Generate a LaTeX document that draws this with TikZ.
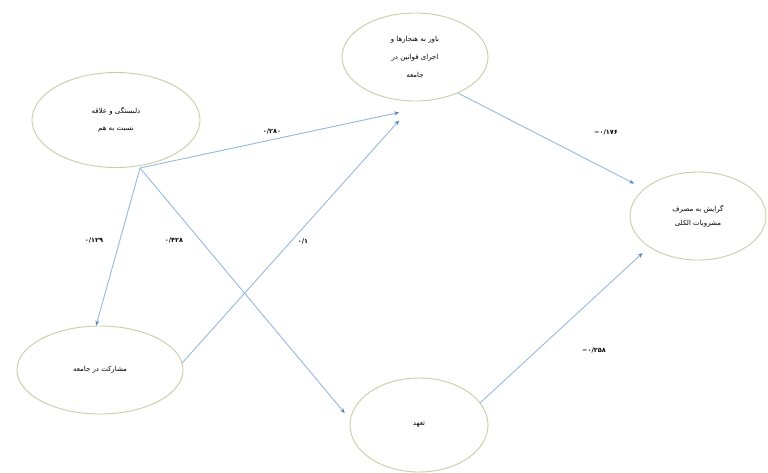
\documentclass[tikz,border=0pt]{standalone}
\usepackage{fontspec}
\usepackage{xcolor}
\usepackage{tikz}
\usetikzlibrary{shapes.geometric,arrows.meta}
\TeXXeTstate=1
\newfontfamily\farsifont[Script=Arabic]{DejaVu Sans}
\newfontfamily\digitfont{DejaVu Sans}
\definecolor{rimcolor}{RGB}{198,206,164}
\definecolor{linkcolor}{RGB}{150,184,222}
\definecolor{tipcolor}{RGB}{86,132,190}

\begin{document}
\begin{tikzpicture}[x=1pt,y=-1pt]
\tikzstyle{arrow} = [draw=linkcolor,line width=0.9pt,-{Stealth[length=5pt,width=4pt,color=tipcolor]}]
\tikzstyle{construct} = [ellipse,draw=rimcolor,line width=0.9pt,inner sep=0,align=center,font=\farsifont\fontsize{7}{14}\selectfont]
\tikzstyle{coef} = [font=\digitfont\bfseries\fontsize{6.5}{8}\selectfont,inner sep=1pt]

\useasboundingbox (0,0) rectangle (768,472);

\node(attach)[construct, minimum width=168, minimum height=95] at (116,120)
  {\beginR دلبستگی و علاقه\endR\\[3pt]\beginR نسبت به هم\endR};
\node(belief)[construct, minimum width=146, minimum height=88, font=\farsifont\fontsize{7}{18}\selectfont] at (415,57)
  {\beginR باور به هنجارها و\endR\\\beginR اجرای قوانین در\endR\\\beginR جامعه\endR};
\node(tendency)[construct, minimum width=136, minimum height=88] at (698,216)
  {\beginR گرایش به مصرف\endR\\\beginR مشروبات الکلی\endR};
\node(involve)[construct, minimum width=166, minimum height=88] at (100,370)
  {\beginR مشارکت در جامعه\endR};
\node(commit)[construct, minimum width=138, minimum height=94] at (419,425)
  {\beginR تعهد\endR};
\coordinate(fork) at (140,168);

\draw [arrow] (fork) -- ([yshift=-12pt]belief.250);
\draw [arrow] (fork) -- (involve.95);
\draw [arrow] (fork) -- ([xshift=-7pt]commit.170);
\draw [arrow] (involve.5) -- ([yshift=-20pt]belief.250);
\draw [arrow] (belief.-40) -- ([xshift=-10pt,yshift=5pt]tendency.153);
\draw [arrow] (commit.20) -- ([xshift=-8pt,yshift=-5pt]tendency.214);

\node(c280)[coef] at (272,131) {۰/۲۸۰};
\node(c129)[coef] at (94,240) {۰/۱۲۹};
\node(c428)[coef] at (174,240) {۰/۴۲۸};
\node(c1)[coef] at (303,241) {۰/۱};
\node(c176)[coef] at (606,132) {−۰/۱۷۶};
\node(c258)[coef] at (594,350) {−۰/۲۵۸};
\end{tikzpicture}
\end{document}
